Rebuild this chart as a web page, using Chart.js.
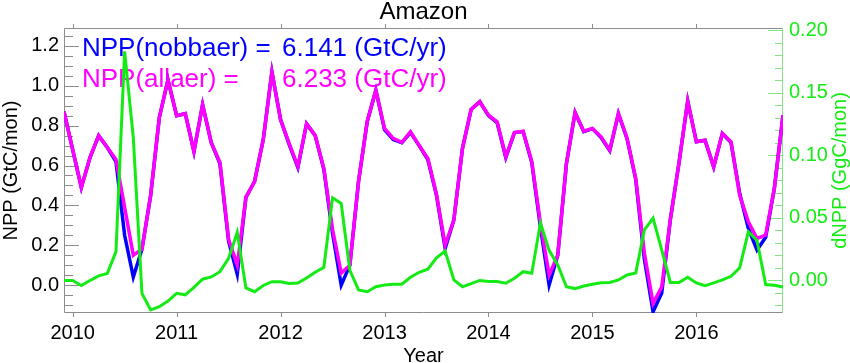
<!DOCTYPE html>
<html>
<head>
<meta charset="utf-8">
<script src="https://cdn.jsdelivr.net/npm/chart.js@4"></script>
<style>
  html, body { margin: 0; padding: 0; background: #fff; }
  #chart { display: block; }
</style>
</head>
<body>
<canvas id="chart" width="850" height="363"></canvas>
<script>
// fonts / colours
const plotFont = "'Liberation Sans', Arial, sans-serif";
const blue = 'rgb(0,0,255)';
const magenta = 'rgb(255,0,255)';
const green = 'rgb(20,235,20)';
const frameGray = '#8c8c8c';

// monthly series, Dec 2009 .. Nov 2016
const firstMonth = 2009 + 11 / 12;

// NPP with all aerosols (GtC/mon)
const nppAllaer = [
  0.87, 0.68, 0.49, 0.64, 0.75, 0.69, 0.63, 0.39, 0.15, 0.18, 0.45, 0.84,
  1.03, 0.85, 0.86, 0.67, 0.905, 0.715, 0.615, 0.23, 0.10, 0.44, 0.52, 0.73,
  1.07, 0.83, 0.71, 0.595, 0.81, 0.75, 0.585, 0.28, 0.06, 0.10, 0.52, 0.82,
  0.978, 0.786, 0.736, 0.716, 0.769, 0.70, 0.635, 0.455, 0.20, 0.326, 0.686, 0.882,
  0.92, 0.853, 0.819, 0.643, 0.765, 0.772, 0.62, 0.31, 0.05, 0.15, 0.61, 0.866,
  0.772, 0.786, 0.744, 0.677, 0.861, 0.736, 0.535, 0.16, -0.092, -0.01, 0.33, 0.615,
  0.923, 0.719, 0.727, 0.593, 0.761, 0.719, 0.451, 0.318, 0.234, 0.251, 0.485, 0.853
];

// NPP without biomass burning aerosols (GtC/mon)
const nppNobbaer = [
  0.87, 0.68, 0.49, 0.64, 0.75, 0.69, 0.62, 0.25, 0.04, 0.18, 0.45, 0.84,
  1.03, 0.85, 0.86, 0.67, 0.905, 0.715, 0.61, 0.22, 0.055, 0.44, 0.52, 0.73,
  1.07, 0.83, 0.705, 0.59, 0.81, 0.75, 0.58, 0.26, 0.0, 0.10, 0.52, 0.82,
  0.978, 0.78, 0.73, 0.715, 0.765, 0.70, 0.63, 0.45, 0.184, 0.326, 0.686, 0.882,
  0.92, 0.85, 0.815, 0.64, 0.765, 0.77, 0.615, 0.29, 0.0, 0.15, 0.61, 0.866,
  0.77, 0.785, 0.74, 0.675, 0.86, 0.735, 0.53, 0.13, -0.134, -0.04, 0.33, 0.615,
  0.923, 0.719, 0.727, 0.593, 0.761, 0.715, 0.46, 0.284, 0.176, 0.24, 0.485, 0.853
];

// difference (GgC/mon), right axis
const dNpp = [
  0.0, 0.0, -0.004, 0.0, 0.0037, 0.0055, 0.023, 0.183, 0.114, -0.0103, -0.0236, -0.021,
  -0.0165, -0.0103, -0.0115, -0.0055, 0.001, 0.0028, 0.007, 0.0177, 0.0385, -0.006, -0.009, -0.004,
  -0.001, -0.001, -0.0025, -0.002, 0.002, 0.0065, 0.0105, 0.066, 0.0615, 0.008, -0.0076, -0.009,
  -0.005, -0.0036, -0.003, -0.003, 0.0025, 0.0065, 0.009, 0.018, 0.0235, 0.0004, -0.005, -0.0025,
  0.0, -0.0008, -0.0008, -0.0022, 0.0018, 0.007, 0.0057, 0.046, 0.024, 0.0124, -0.005, -0.0065,
  -0.0045, -0.003, -0.0018, -0.0016, 0.0004, 0.0044, 0.006, 0.0404, 0.0498, 0.0244, -0.0016, -0.0017,
  0.0026, -0.002, -0.0042, -0.002, 0.0004, 0.0033, 0.01, 0.039, 0.032, -0.0033, -0.0038, -0.0052
];

const legendLines = [
  { label: 'NPP(nobbaer) =', value: '6.141 (GtC/yr)', color: blue },
  { label: 'NPP(allaer) =', value: '6.233 (GtC/yr)', color: magenta }
];

const toPoints = vals => vals.map((v, i) => ({ x: firstMonth + i / 12, y: v }));

// label only every n-th minor tick
const majorLabel = (v, every, digits) =>
  Math.abs(v / every - Math.round(v / every)) < 1e-6 ? v.toFixed(digits) : '';

// IDL-like frame: box, inward ticks, titles, annotation
const idlFrame = {
  id: 'idlFrame',
  beforeDatasetsDraw(chart) {
    const { ctx, chartArea: a, scales } = chart;
    ctx.save();

    ctx.lineWidth = 1;
    ctx.strokeStyle = frameGray;
    ctx.beginPath();
    ctx.moveTo(a.right, a.top + 0.5);
    ctx.lineTo(a.left + 0.5, a.top + 0.5);
    ctx.lineTo(a.left + 0.5, a.bottom - 0.5);
    ctx.lineTo(a.right, a.bottom - 0.5);
    ctx.stroke();

    // x ticks, outward top and bottom
    scales.x.ticks.forEach(t => {
      const px = Math.round(scales.x.getPixelForValue(t.value)) + 0.5;
      ctx.beginPath();
      ctx.moveTo(px, a.bottom); ctx.lineTo(px, a.bottom + 4);
      ctx.moveTo(px, a.top); ctx.lineTo(px, a.top - 4);
      ctx.stroke();
    });

    // left ticks inward
    scales.y.ticks.forEach(t => {
      const py = Math.round(scales.y.getPixelForValue(t.value)) + 0.5;
      const len = t.label !== '' ? 15 : 9;
      ctx.beginPath();
      ctx.moveTo(a.left, py); ctx.lineTo(a.left + len, py);
      ctx.stroke();
    });

    // right axis in green
    ctx.strokeStyle = 'rgb(130,230,130)';
    ctx.beginPath();
    ctx.moveTo(a.right - 0.5, a.top);
    ctx.lineTo(a.right - 0.5, a.bottom);
    ctx.stroke();
    scales.y2.ticks.forEach(t => {
      const py = Math.round(scales.y2.getPixelForValue(t.value)) + 0.5;
      const len = t.label !== '' ? 15 : 8;
      ctx.beginPath();
      ctx.moveTo(a.right, py); ctx.lineTo(a.right - len, py);
      ctx.stroke();
    });

    // annotation
    ctx.font = '26px ' + plotFont;
    ctx.textBaseline = 'alphabetic';
    ctx.textAlign = 'left';
    legendLines.forEach((l, i) => {
      ctx.fillStyle = l.color;
      ctx.fillText(l.label, a.left + 18, a.top + 28 + i * 31);
      ctx.fillText(l.value, a.left + 218, a.top + 28 + i * 31);
    });

    // chart title
    ctx.fillStyle = '#000';
    ctx.textAlign = 'center';
    ctx.font = '24px ' + plotFont;
    ctx.fillText('Amazon', (a.left + a.right) / 2, 19);

    // axis titles
    ctx.font = '20px ' + plotFont;
    ctx.fillText('Year', (a.left + a.right) / 2, 362);
    const midY = (a.top + a.bottom) / 2;
    ctx.save();
    ctx.translate(17, midY);
    ctx.rotate(-Math.PI / 2);
    ctx.fillText('NPP (GtC/mon)', 0, 0);
    ctx.restore();
    ctx.save();
    ctx.translate(846, midY);
    ctx.rotate(-Math.PI / 2);
    ctx.fillStyle = green;
    ctx.fillText('dNPP (GgC/mon)', 0, 0);
    ctx.restore();

    ctx.restore();
  }
};

new Chart(document.getElementById('chart'), {
  type: 'line',
  data: {
    datasets: [
      {
        label: 'dNPP',
        data: toPoints(dNpp),
        yAxisID: 'y2',
        borderColor: green,
        borderWidth: 3,
        pointRadius: 0,
        tension: 0
      },
      {
        label: 'NPP(allaer)',
        data: toPoints(nppAllaer),
        yAxisID: 'y',
        borderColor: magenta,
        borderWidth: 3.5,
        pointRadius: 0,
        tension: 0
      },
      {
        label: 'NPP(nobbaer)',
        data: toPoints(nppNobbaer),
        yAxisID: 'y',
        borderColor: blue,
        borderWidth: 3.5,
        pointRadius: 0,
        tension: 0
      }
    ]
  },
  options: {
    responsive: false,
    animation: false,
    layout: { padding: { top: 28, left: 0, right: 0, bottom: 0 } },
    plugins: {
      legend: { display: false },
      title: { display: false },
      tooltip: { enabled: false }
    },
    scales: {
      x: {
        type: 'linear',
        min: firstMonth,
        max: firstMonth + 83 / 12,
        grid: { display: false, drawTicks: false },
        border: { display: false },
        ticks: {
          stepSize: 1,
          includeBounds: false,
          autoSkip: false,
          maxRotation: 0,
          padding: 8,
          color: '#000',
          font: { family: plotFont, size: 20 },
          callback: v => String(Math.round(v))
        },
        afterFit: s => { s.height = 50; }
      },
      y: {
        position: 'left',
        min: -0.14,
        max: 1.29,
        grid: { display: false, drawTicks: false },
        border: { display: false },
        ticks: {
          stepSize: 0.05,
          includeBounds: false,
          autoSkip: false,
          padding: 5,
          color: '#000',
          font: { family: plotFont, size: 20 },
          callback: v => majorLabel(v, 0.2, 1)
        },
        afterFit: s => { s.width = 64; }
      },
      y2: {
        position: 'right',
        min: -0.026,
        max: 0.2016,
        grid: { display: false, drawTicks: false },
        border: { display: false },
        ticks: {
          stepSize: 0.01,
          includeBounds: false,
          autoSkip: false,
          padding: 6,
          color: green,
          font: { family: plotFont, size: 20 },
          callback: v => majorLabel(v, 0.05, 2)
        },
        afterFit: s => { s.width = 67; }
      }
    }
  },
  plugins: [idlFrame]
});
</script>
</body>
</html>
